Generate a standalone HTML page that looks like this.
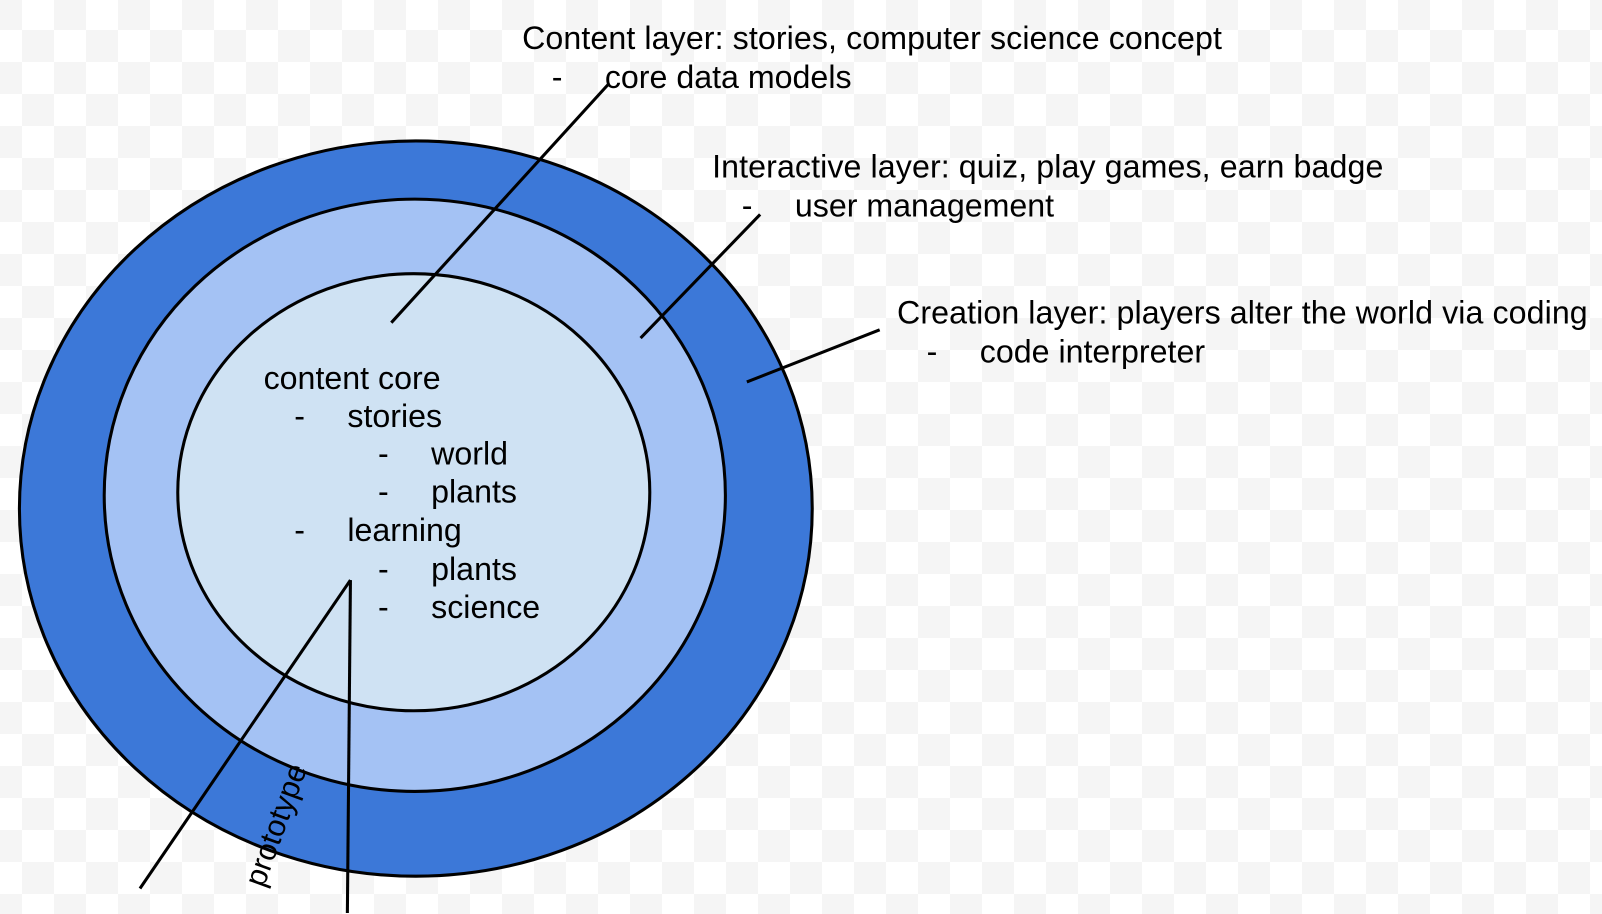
<!DOCTYPE html>
<html><head><style>
html,body{margin:0;padding:0}
body{width:1602px;height:914px;overflow:hidden;
background-color:#f5f5f5;
background-image:conic-gradient(#fff 0 25%,#f5f5f5 0 50%,#fff 0 75%,#f5f5f5 0);
background-size:64px 64px;background-position:22px 30px;}
svg{position:absolute;left:0;top:0}
text{font-family:"Liberation Sans",Arial,sans-serif;font-size:31.5px;fill:#000}
</style></head><body>
<svg width="1602" height="914" viewBox="0 0 1568 895" preserveAspectRatio="none">
<ellipse cx="407" cy="498" rx="388" ry="360" fill="#3c78d8" stroke="#000" stroke-width="3"/>
<ellipse cx="406" cy="485" rx="304" ry="290" fill="#a4c2f4" stroke="#000" stroke-width="3"/>
<ellipse cx="405" cy="482" rx="231" ry="214" fill="#cfe2f3" stroke="#000" stroke-width="3"/>
<g stroke="#000" stroke-width="3" fill="none">
<line x1="383" y1="316" x2="595" y2="83"/>
<line x1="627" y1="331" x2="744" y2="210"/>
<line x1="731" y1="374" x2="861" y2="323"/>
<line x1="343" y1="568" x2="137" y2="870"/>
<line x1="343" y1="568" x2="340" y2="894"/>
</g>
<g>
<text x="511" y="48" textLength="685">Content layer: stories, computer science concept</text>
<text x="540" y="86">-</text><text x="592" y="86">core data models</text>
<text x="697" y="174" textLength="657">Interactive layer: quiz, play games, earn badge</text>
<text x="726" y="212">-</text><text x="778" y="212">user management</text>
<text x="878" y="317" textLength="676">Creation layer: players alter the world via coding</text>
<text x="907" y="355">-</text><text x="959" y="355">code interpreter</text>
<text x="258" y="381">content core</text>
<text x="288" y="418">-</text><text x="340" y="418">stories</text>
<text x="370" y="455">-</text><text x="422" y="455">world</text>
<text x="370" y="492">-</text><text x="422" y="492">plants</text>
<text x="288" y="530">-</text><text x="340" y="530">learning</text>
<text x="370" y="568">-</text><text x="422" y="568">plants</text>
<text x="370" y="605">-</text><text x="422" y="605">science</text>
<text style="font-size:30px" transform="translate(258,870) rotate(-70)">prototype</text>
</g>
</svg>
</body></html>
